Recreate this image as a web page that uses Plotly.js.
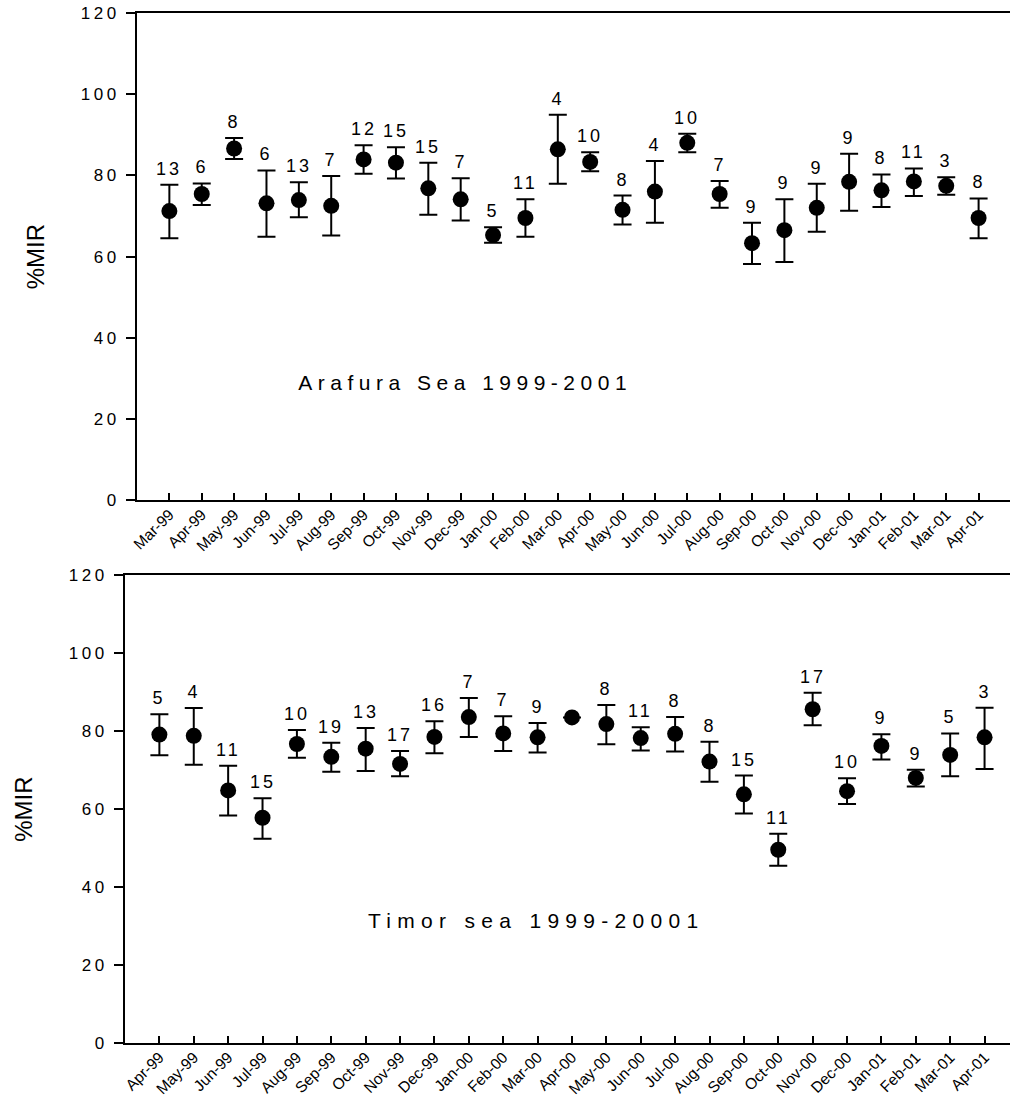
<!DOCTYPE html>
<html>
<head>
<meta charset="utf-8">
<script src="https://cdn.plot.ly/plotly-3.0.1.min.js"></script>
<style>
  html, body { margin: 0; padding: 0; background: #fff; }
  #chart .ytick text, #chart .y2tick text { letter-spacing: 3.5px; }
  #chart g.annotation text { letter-spacing: 3px; }
  #chart g.annotation[data-index="0"] text { letter-spacing: 5.5px; }
  #chart g.annotation[data-index="1"] text { letter-spacing: 6.3px; }
</style>
</head>
<body>
<div id="chart" style="width:1010px;height:1097px;"></div>
<script>
// ---- Arafura Sea 1999-2001 ----
const topMonths = ['Mar-99','Apr-99','May-99','Jun-99','Jul-99','Aug-99','Sep-99','Oct-99','Nov-99','Dec-99',
  'Jan-00','Feb-00','Mar-00','Apr-00','May-00','Jun-00','Jul-00','Aug-00','Sep-00','Oct-00','Nov-00','Dec-00',
  'Jan-01','Feb-01','Mar-01','Apr-01'];
const topMean = [71.2,75.4,86.6,73.1,73.9,72.5,83.9,83.1,76.8,74.1,65.3,69.5,86.4,83.3,71.5,76.0,88.0,75.4,63.3,66.5,72.0,78.4,76.3,78.5,77.4,69.5];
const topHigh = [77.7,78.0,89.2,81.2,78.3,79.8,87.4,86.9,83.1,79.3,67.2,74.1,94.9,85.7,75.0,83.5,90.2,78.6,68.3,74.1,77.9,85.3,80.2,81.7,79.5,74.3];
const topLow  = [64.5,72.7,84.0,64.9,69.7,65.2,80.4,79.2,70.3,68.9,63.4,64.9,77.9,81.0,67.9,68.3,85.7,72.0,58.2,58.7,66.1,71.3,72.2,74.9,75.2,64.5];
const topN    = [13,6,8,6,13,7,12,15,15,7,5,11,4,10,8,4,10,7,9,9,9,9,8,11,3,8];

// ---- Timor sea 1999-20001 ----
const botMonths = ['Apr-99','May-99','Jun-99','Jul-99','Aug-99','Sep-99','Oct-99','Nov-99','Dec-99',
  'Jan-00','Feb-00','Mar-00','Apr-00','May-00','Jun-00','Jul-00','Aug-00','Sep-00','Oct-00','Nov-00','Dec-00',
  'Jan-01','Feb-01','Mar-01','Apr-01'];
const botMean = [79.1,78.8,64.8,57.8,76.7,73.4,75.5,71.6,78.5,83.6,79.4,78.4,83.5,81.8,78.2,79.3,72.2,63.8,49.6,85.6,64.6,76.2,68.0,73.9,78.4];
const botHigh = [84.3,85.9,71.1,62.8,80.3,77.0,80.8,74.9,82.5,88.5,83.8,82.1,null,86.7,81.0,83.6,77.3,68.6,53.7,89.8,67.9,79.2,70.1,79.4,86.0];
const botLow  = [73.8,71.4,58.4,52.4,73.2,69.6,69.8,68.4,74.3,78.5,74.9,74.5,null,76.6,75.0,74.8,67.0,58.9,45.5,81.5,61.3,72.7,65.8,68.4,70.3];
const botN    = [5,4,11,15,10,19,13,17,16,7,7,9,null,8,11,8,8,15,11,17,10,9,9,5,3];

const topTitle = 'Arafura Sea 1999-2001';
const botTitle = 'Timor sea 1999-20001';
const yTitle = '%MIR';

const FONT = 'Liberation Sans, Arial, Helvetica, sans-serif';

function plus(mean, high) { return mean.map((m, i) => high[i] == null ? 0 : high[i] - m); }
function minus(mean, low) { return mean.map((m, i) => low[i] == null ? 0 : m - low[i]); }

function trace(months, mean, high, low, xa, ya) {
  return {
    type: 'scatter', mode: 'markers',
    x: months, y: mean, xaxis: xa, yaxis: ya,
    marker: { color: '#000', size: 16, symbol: 'circle' },
    error_y: { type: 'data', symmetric: false, array: plus(mean, high), arrayminus: minus(mean, low),
               color: '#000', thickness: 2, width: 9 },
    hoverinfo: 'x+y'
  };
}

const annotations = [
  { xref: 'x domain', yref: 'y domain', x: 0.376, y: 0.215, text: topTitle, showarrow: false,
    font: { family: FONT, size: 21, color: '#000' } },
  { xref: 'x2 domain', yref: 'y2 domain', x: 0.465, y: 0.233, text: botTitle, showarrow: false,
    font: { family: FONT, size: 21, color: '#000' } }
];
function addLabels(months, high, mean, N, xr, yr) {
  N.forEach((n, i) => {
    if (n == null) return;
    annotations.push({ xref: xr, yref: yr, x: months[i], y: high[i] == null ? mean[i] : high[i],
      text: String(n), showarrow: false, yanchor: 'bottom', yshift: 4,
      font: { family: FONT, size: 18, color: '#000' } });
  });
}
addLabels(topMonths, topHigh, topMean, topN, 'x', 'y');
addLabels(botMonths, botHigh, botMean, botN, 'x2', 'y2');

const xCommon = {
  type: 'category', showline: true, linewidth: 2, linecolor: '#000', mirror: true,
  ticks: 'inside', ticklen: 7, tickwidth: 2, tickcolor: '#000', tickangle: -45,
  ticklabelstandoff: -3,
  tickfont: { family: FONT, size: 15.5, color: '#000' },
  showgrid: false, zeroline: false, fixedrange: true
};
const yCommon = {
  range: [0, 120], tick0: 0, dtick: 20, showline: true, linewidth: 2, linecolor: '#000',
  ticks: 'outside', ticklen: 9, tickwidth: 2, tickcolor: '#000', ticklabelstandoff: 3,
  tickfont: { family: FONT, size: 17, color: '#000' },
  showgrid: false, zeroline: false, fixedrange: true,
  title: { text: yTitle, font: { family: FONT, size: 24, color: '#000' }, standoff: 40 }
};

const layout = {
  width: 1010, height: 1097,
  margin: { l: 0, r: 0, t: 0, b: 0 },
  paper_bgcolor: '#fff', plot_bgcolor: '#fff',
  showlegend: false,
  font: { family: FONT, color: '#000' },
  xaxis: Object.assign({}, xCommon, { domain: [137/1010, 1], anchor: 'y', range: [-1, 25.97] }),
  yaxis: Object.assign({}, yCommon, { domain: [0.54376, 0.98842], anchor: 'x' }),
  xaxis2: Object.assign({}, xCommon, { domain: [125/1010, 1], anchor: 'y2', range: [-1, 24.74] }),
  yaxis2: Object.assign({}, yCommon, { domain: [0.04895, 0.47584], anchor: 'x2' }),
  annotations: annotations
};

Plotly.newPlot('chart', [
  trace(topMonths, topMean, topHigh, topLow, 'x', 'y'),
  trace(botMonths, botMean, botHigh, botLow, 'x2', 'y2')
], layout, { displayModeBar: false, staticPlot: true });
</script>
</body>
</html>
